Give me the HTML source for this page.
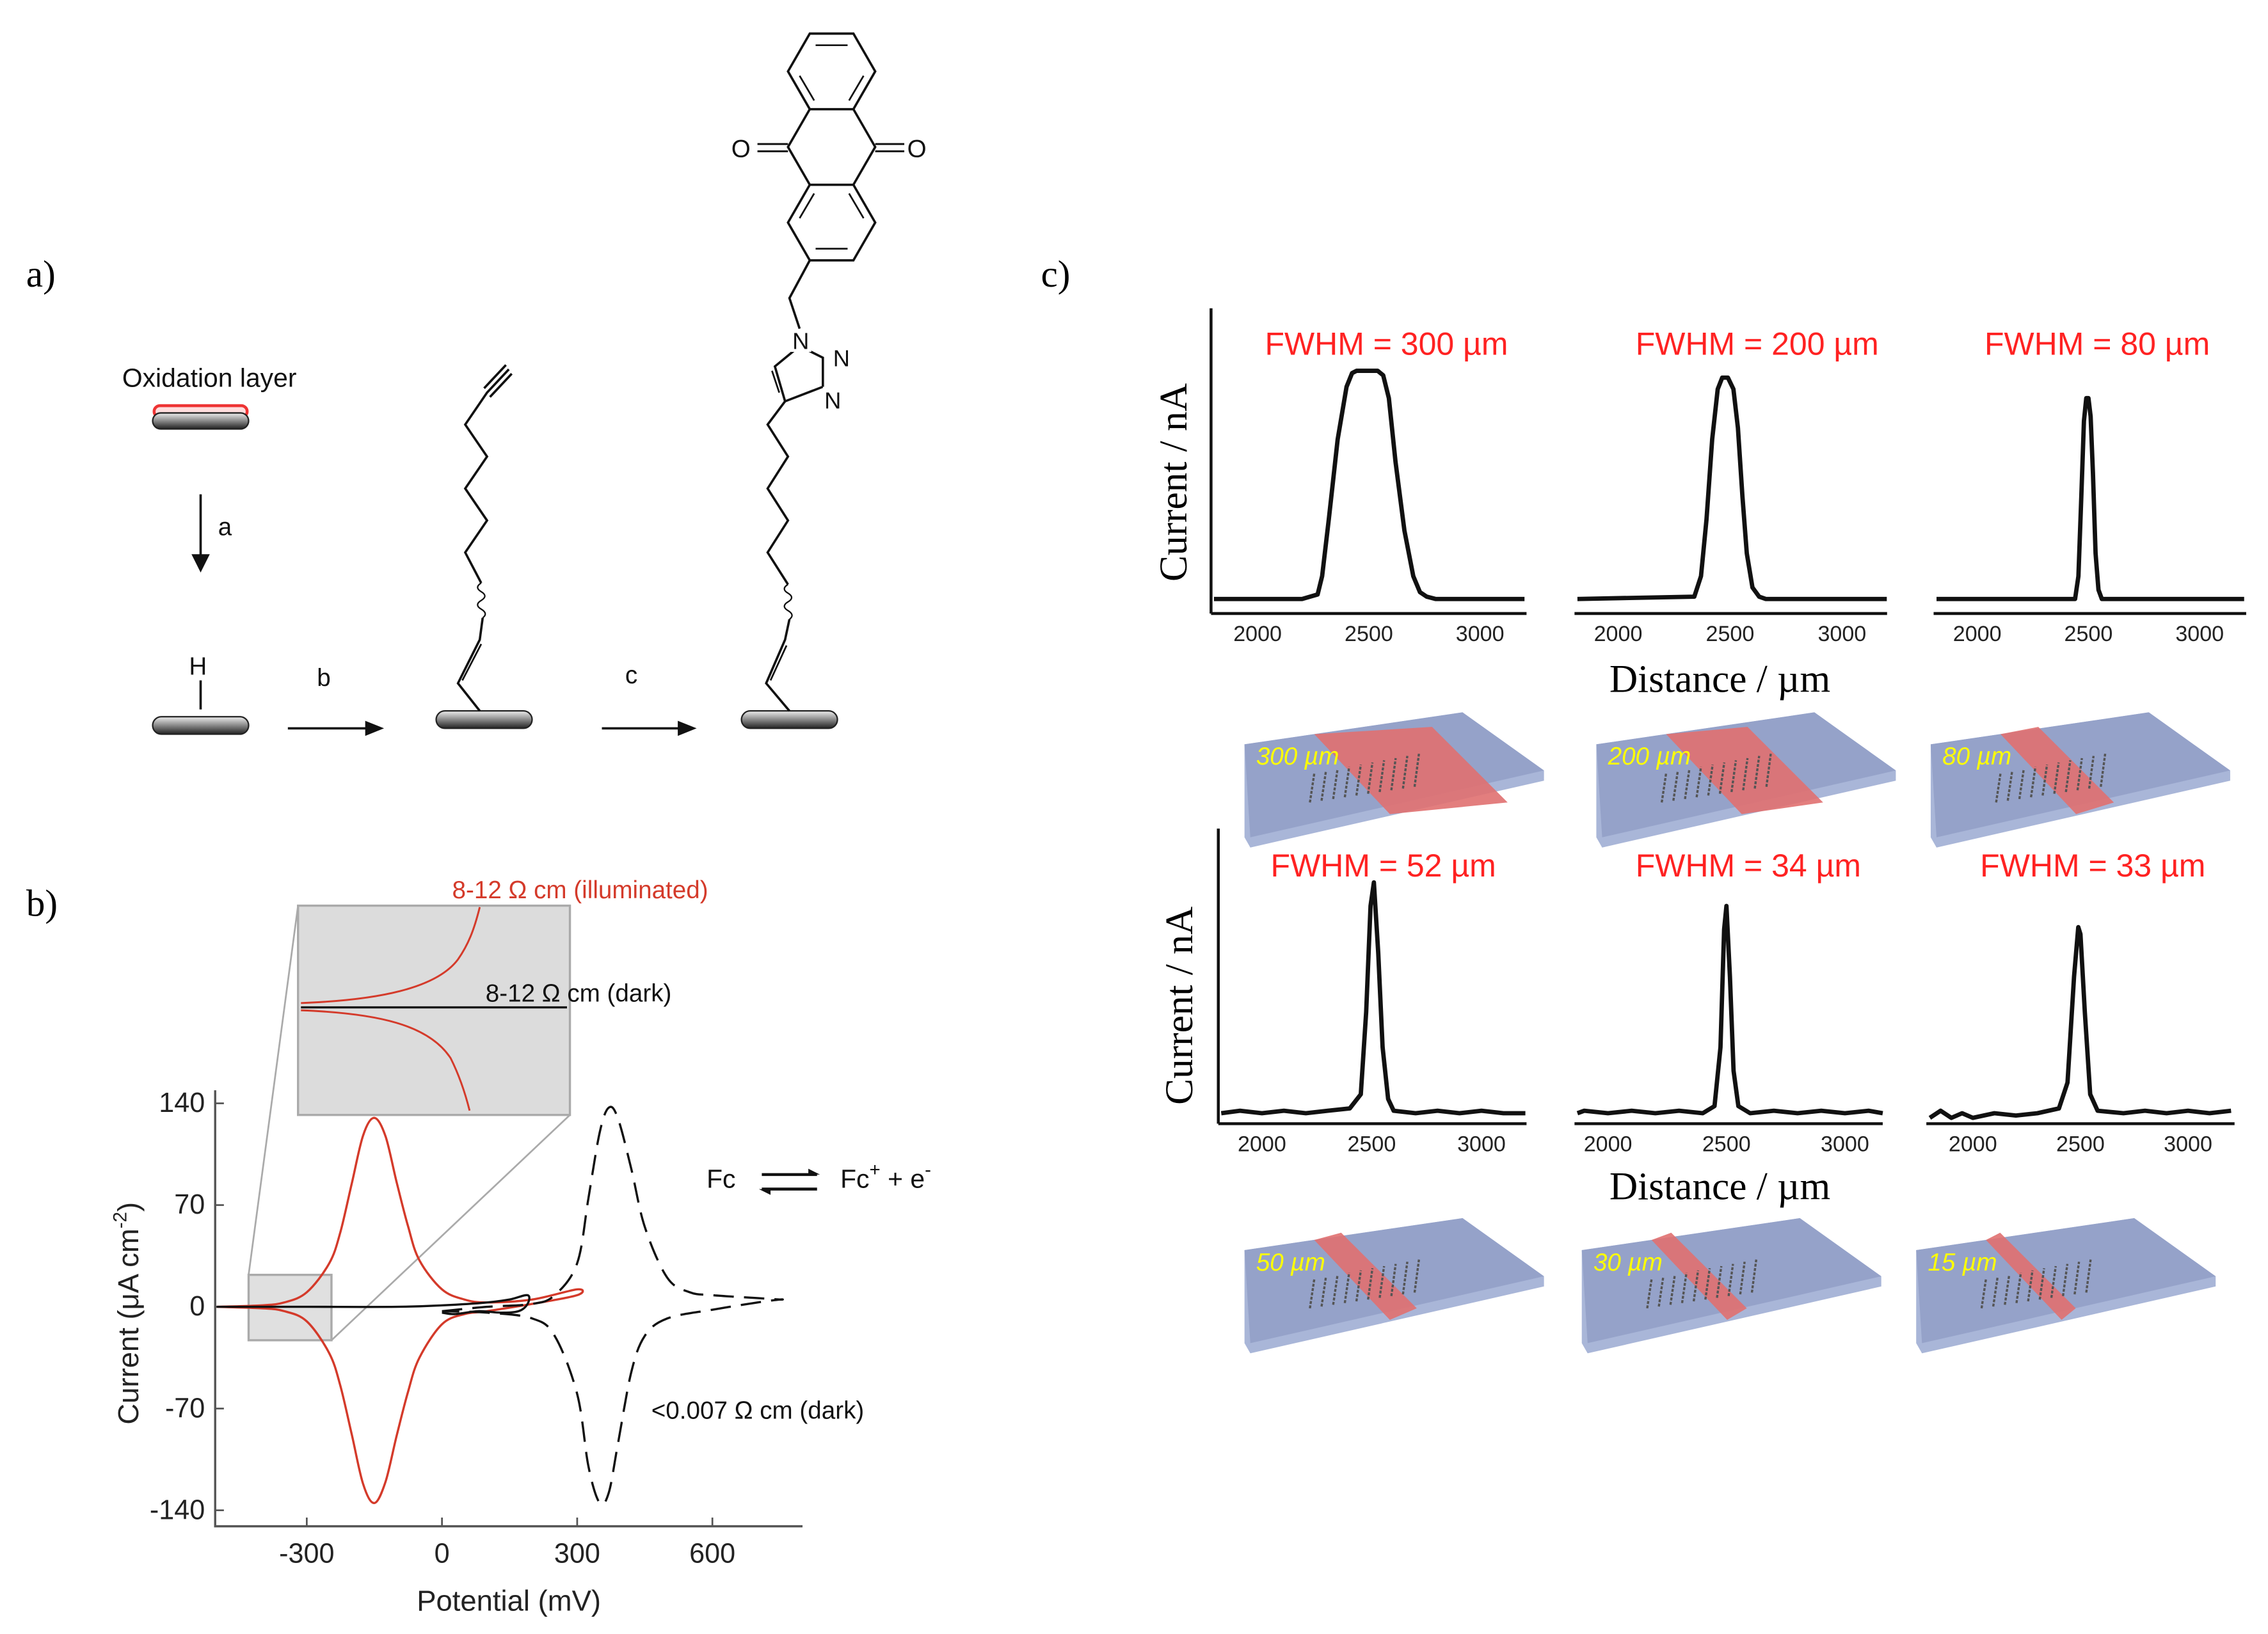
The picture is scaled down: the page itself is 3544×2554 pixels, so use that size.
<!DOCTYPE html>
<html><head><meta charset="utf-8"><style>
html,body{margin:0;padding:0;background:#fff}
svg{display:block}
text{font-family:"Liberation Sans",sans-serif}
.serif{font-family:"Liberation Serif",serif}
</style></head><body>
<svg id="fig" width="3544" height="2554" viewBox="0 0 1560 1124" xmlns="http://www.w3.org/2000/svg">
<rect width="1560" height="1124" fill="#fff"/>

<text x="18" y="197" font-size="26" class="serif">a)</text>
<text x="18" y="630" font-size="26" class="serif">b)</text>
<text x="716" y="197" font-size="26" class="serif">c)</text>

<g stroke="#111" fill="none" stroke-width="1.6">
  <defs>
    <linearGradient id="plate" x1="0" y1="0" x2="0" y2="1">
      <stop offset="0" stop-color="#eee"/><stop offset="0.5" stop-color="#888"/><stop offset="1" stop-color="#222"/>
    </linearGradient>
  </defs>
  <text x="84" y="266" font-size="18" fill="#111" stroke="none">Oxidation layer</text>
  <rect x="106" y="279" width="64" height="8" rx="4" fill="#fdd" stroke="#e33" stroke-width="2"/>
  <rect x="105" y="284" width="66" height="11" rx="5.5" fill="url(#plate)" stroke="#222" stroke-width="1"/>
  <line x1="138" y1="340" x2="138" y2="388"/><path d="M133 382 L138 392 L143 382Z" fill="#111"/>
  <text x="150" y="368" font-size="17" fill="#111" stroke="none">a</text>
  <text x="130" y="464" font-size="17" fill="#111" stroke="none">H</text>
  <line x1="138" y1="468" x2="138" y2="488"/>
  <rect x="105" y="493" width="66" height="12" rx="6" fill="url(#plate)" stroke="#222" stroke-width="1"/>
  <text x="218" y="472" font-size="17" fill="#111" stroke="none">b</text>
  <line x1="198" y1="501" x2="255" y2="501"/><path d="M252 497 L262 501 L252 505Z" fill="#111"/>
  <rect x="300" y="489" width="66" height="12" rx="6" fill="url(#plate)" stroke="#222" stroke-width="1"/>
  <path d="M330 489 L315 470 L330 440 L332 425"/>
  <path d="M318 468 L331 443" stroke-width="1.2"/>
  <path d="M332 425 q4 -3 -1 -6 q-5 -3 0 -6 q5 -3 0 -6 q-5 -3 0 -6" stroke-width="1"/>
  <path d="M331 401 L320 380 L335 358 L320 336 L335 314 L320 292 L335 270 L350 254"/>
  <path d="M337 273 L352 257 M333 267 L348 251"/>
  <text x="430" y="470" font-size="17" fill="#111" stroke="none">c</text>
  <line x1="414" y1="501" x2="470" y2="501"/><path d="M467 497 L477 501 L467 505Z" fill="#111"/>
  <rect x="510" y="489" width="66" height="12" rx="6" fill="url(#plate)" stroke="#222" stroke-width="1"/>
  <path d="M543 489 L527 470 L540 440 L543 426"/>
  <path d="M530 468 L541 444" stroke-width="1.2"/>
  <path d="M543 426 q4 -3 -1 -6 q-5 -3 0 -6 q5 -3 0 -6 q-5 -3 0 -6" stroke-width="1"/>
  <path d="M542 402 L528 380 L542 358 L528 336 L542 314 L528 292 L540 276"/>
  <path d="M540 276 L533 252 L550 238 L566 246 L566 266 Z"/>
  <path d="M536 270 L531 255" stroke-width="1.2"/>
  <rect x="544" y="226" width="14" height="16" fill="#fff" stroke="none"/>
  <text x="545" y="240" font-size="16" fill="#111" stroke="none">N</text>
  <rect x="572" y="238" width="14" height="16" fill="#fff" stroke="none"/>
  <text x="573" y="252" font-size="16" fill="#111" stroke="none">N</text>
  <rect x="566" y="266" width="14" height="16" fill="#fff" stroke="none"/>
  <text x="567" y="281" font-size="16" fill="#111" stroke="none">N</text>
  <path d="M550 226 L543 205 L557 179"/>
  <path d="M557 23 L587 23 L602 49 L587 75 L557 75 L542 49 Z"/>
  <path d="M561 31 L583 31 M594 52 L584 69 M550 52 L560 69" stroke-width="1.2"/>
  <path d="M557 75 L542 101 L557 127 M587 75 L602 101 L587 127"/>
  <path d="M557 127 L587 127 L602 153 L587 179 L557 179 L542 153 Z"/>
  <path d="M561 171 L583 171 M550 150 L560 133 M594 150 L584 133" stroke-width="1.2"/>
  <path d="M542 99 L521 99 M542 104 L521 104 M602 99 L622 99 M602 104 L622 104" stroke-width="1.3"/>
  <text x="503" y="108" font-size="17" fill="#111" stroke="none">O</text>
  <text x="624" y="108" font-size="17" fill="#111" stroke="none">O</text>
</g>

<g id="cv"></g>

<g id="prof"></g>
<text class="serif" font-size="27" transform="translate(816,400) rotate(-90)">Current / nA</text>
<text class="serif" font-size="27" transform="translate(820,760) rotate(-90)">Current / nA</text>
<text class="serif" font-size="27" x="1107" y="476">Distance / µm</text>
<text class="serif" font-size="27" x="1107" y="825">Distance / µm</text>
<g id="slabs"></g>
</svg>

<script>
const NS="http://www.w3.org/2000/svg";
function mk(tag,attrs,parent,txt){const e=document.createElementNS(NS,tag);for(const k in attrs)e.setAttribute(k,attrs[k]);if(txt!==undefined)e.textContent=txt;parent.appendChild(e);return e;}

const redFwdE=[-500,-400,-350,-300,-250,-225,-200,-175,-150,-125,-100,-75,-50,0,50,100,200,300];
const redFwdI=[0,1,3,10,30,52,85,118,130,117,85,55,32,12,5,3,5,12];
const redRevE=[300,200,100,50,0,-50,-75,-100,-125,-150,-175,-200,-225,-250,-300,-350,-400,-500];
const redRevI=[8,2,-3,-5,-12,-35,-58,-88,-120,-135,-122,-88,-55,-32,-10,-3,-1,0];
const darkFwdE=[-500,-300,-100,0,100,150,190];
const darkFwdI=[0,0,0,1,3,5,8];
const darkRevE=[190,170,130,80,30,0];
const darkRevI=[2,-3,-4,-3,-5,-4];
const dashFwdE=[0,100,200,250,300,325,350,370,390,420,450,500,550,600,700,750];
const dashFwdI=[-3,0,2,8,30,75,120,137,130,95,55,20,10,8,6,5];
const dashRevE=[750,700,600,500,450,420,390,370,350,325,300,250,200,100,0];
const dashRevI=[5,3,-2,-8,-20,-45,-95,-128,-135,-110,-60,-20,-8,-4,-3];
const cvXTicks=[-300,0,300,600];
const cvYTicks=[140,70,0,-70,-140];

const cx=e=>304+e*0.31, cy=i=>899-i*1.0;
const cv=document.getElementById('cv');
function smooth(pts){
  let d='M'+pts[0][0].toFixed(1)+' '+pts[0][1].toFixed(1);
  for(let i=0;i<pts.length-1;i++){
    const p0=pts[Math.max(0,i-1)],p1=pts[i],p2=pts[i+1],p3=pts[Math.min(pts.length-1,i+2)];
    const c1=[p1[0]+(p2[0]-p0[0])/6,p1[1]+(p2[1]-p0[1])/6];
    const c2=[p2[0]-(p3[0]-p1[0])/6,p2[1]-(p3[1]-p1[1])/6];
    d+=' C'+c1[0].toFixed(1)+' '+c1[1].toFixed(1)+' '+c2[0].toFixed(1)+' '+c2[1].toFixed(1)+' '+p2[0].toFixed(1)+' '+p2[1].toFixed(1);
  }
  return d;
}
function linear(pts){return pts.map((p,i)=>(i?'L':'M')+p[0].toFixed(1)+' '+p[1].toFixed(1)).join(' ');}
function cvPts(E,I){return E.map((e,k)=>[cx(e),cy(I[k])]);}
let a=mk('path',{d:'M148 750 L148 1050 L552 1050',stroke:'#555','stroke-width':1.5,fill:'none'},cv);


cvXTicks.forEach(t=>{
  const tk=mk('line',{x1:cx(t),x2:cx(t),y1:1050,y2:1044,stroke:'#555','stroke-width':1.2},cv);
  
  
  const l=mk('text',{x:cx(t),y:1075,'font-size':19,'text-anchor':'middle',fill:'#222'},cv,String(t));
  
  
});
cvYTicks.forEach(t=>{
  const tk=mk('line',{x1:148,x2:154,y1:cy(t),y2:cy(t),stroke:'#555','stroke-width':1.2},cv);
  
  
  const l=mk('text',{x:141,y:cy(t)+6,'font-size':19,'text-anchor':'end',fill:'#222'},cv,String(t));
  
  
});
let t1=mk('text',{x:350,y:1108,'font-size':20,'text-anchor':'middle',fill:'#222'},cv,'Potential (mV)');


let t2=mk('text',{transform:'translate(95,980) rotate(-90)','font-size':20,fill:'#222'},cv,'Current (μA cm');


mk('tspan',{dy:-8,'font-size':13},t2,'-2');
mk('tspan',{dy:8},t2,')');
let zb=mk('rect',{x:171,y:877,width:57,height:45,fill:'#ccc','fill-opacity':0.6,stroke:'#aaa','stroke-width':1.5},cv);


mk('path',{d:'M171 877 L205 623 M228 922 L392 767',stroke:'#aaa','stroke-width':1.2,fill:'none'},cv);
let ib=mk('rect',{x:205,y:623,width:187,height:144,fill:'#dcdcdc',stroke:'#aaa','stroke-width':1.5},cv);


mk('path',{d:'M207 690 C260 688 300 680 315 660 C322 650 326 640 330 624',stroke:'#d43a2a','stroke-width':1.3,fill:'none'},cv);
mk('path',{d:'M207 695 C260 697 295 705 310 728 C316 740 320 752 323 764',stroke:'#d43a2a','stroke-width':1.3,fill:'none'},cv);
mk('line',{x1:207,x2:390,y1:693,y2:693,stroke:'#111','stroke-width':1.5},cv);
let s1=mk('path',{d:smooth(cvPts(redFwdE,redFwdI).concat(cvPts(redRevE,redRevI))),stroke:'#d43a2a','stroke-width':1.5,fill:'none'},cv);


let s2=mk('path',{d:smooth(cvPts(darkFwdE,darkFwdI).concat(cvPts(darkRevE,darkRevI))),stroke:'#111','stroke-width':1.5,fill:'none'},cv);


let s3=mk('path',{d:smooth(cvPts(dashFwdE,dashFwdI).concat(cvPts(dashRevE,dashRevI))),stroke:'#111','stroke-width':1.5,fill:'none','stroke-dasharray':'14 7'},cv);


let n1=mk('text',{x:311,y:618,'font-size':17,fill:'#d43a2a'},cv,'8-12  Ω cm (illuminated)');


let n2=mk('text',{x:334,y:689,'font-size':17,fill:'#111'},cv,'8-12  Ω cm (dark)');


let n3=mk('text',{x:448,y:976,'font-size':17,fill:'#111'},cv,'<0.007 Ω cm (dark)');


let n4=mk('text',{x:486,y:817,'font-size':18,fill:'#111'},cv,'Fc');


mk('path',{d:'M524 808 L562 808 M524 818 L562 818',stroke:'#111','stroke-width':2},cv);
mk('path',{d:'M556 804 L564 808 L556 808Z M530 818 L522 818 L530 822Z',fill:'#111'},cv);
let n5=mk('text',{x:578,y:817,'font-size':18,fill:'#111'},cv,'Fc');
mk('tspan',{dy:-8,'font-size':13},n5,'+');
mk('tspan',{dy:8},n5,'  +  e');
mk('tspan',{dy:-8,'font-size':13},n5,'-');

const p1X=[1800,2200,2270,2290,2320,2360,2400,2425,2445,2540,2565,2590,2620,2660,2700,2730,2760,2800,3200];
const p1Y=[0,0,0.02,0.1,0.35,0.7,0.93,0.99,1.0,1.0,0.98,0.88,0.6,0.3,0.1,0.03,0.01,0,0];
const p2X=[1800,2340,2370,2395,2420,2445,2465,2490,2515,2535,2555,2575,2600,2630,2660,3200];
const p2Y=[0,0.01,0.1,0.35,0.7,0.92,0.97,0.97,0.92,0.75,0.45,0.2,0.05,0.01,0,0];
const p3X=[1800,2440,2455,2468,2480,2490,2500,2510,2520,2532,2545,2560,3200];
const p3Y=[0,0,0.1,0.45,0.78,0.88,0.88,0.8,0.55,0.2,0.04,0,0];
const p4X=[1800,1900,2000,2100,2200,2300,2400,2450,2475,2495,2510,2530,2550,2575,2600,2700,2800,2900,3000,3100,3200];
const p4Y=[0.02,0.03,0.02,0.03,0.02,0.03,0.04,0.1,0.45,0.9,1.0,0.7,0.3,0.08,0.03,0.02,0.03,0.02,0.03,0.02,0.02];
const p5X=[1800,1900,2000,2100,2200,2300,2400,2450,2475,2490,2500,2515,2530,2550,2600,2700,2800,2900,3000,3100,3200];
const p5Y=[0.02,0.03,0.02,0.03,0.02,0.03,0.02,0.05,0.3,0.8,0.9,0.6,0.2,0.05,0.02,0.03,0.02,0.03,0.02,0.03,0.02];
const p6X=[1800,1850,1900,1950,2000,2100,2200,2300,2400,2440,2470,2490,2500,2520,2545,2580,2700,2800,2900,3000,3100,3200];
const p6Y=[0.0,0.03,0.0,0.02,0.0,0.02,0.01,0.02,0.04,0.15,0.6,0.81,0.78,0.45,0.1,0.03,0.02,0.03,0.02,0.03,0.02,0.03];
const distTicks=[2000,2500,3000];
const fwhmLabels=['FWHM = 300 µm','FWHM = 200 µm','FWHM = 80 µm','FWHM = 52 µm','FWHM = 34 µm','FWHM = 33 µm'];
const spotLabels=['300 µm','200 µm','80 µm','50 µm','30 µm','15 µm'];
const spotWidths=[300,200,80,50,30,15];

const panels=[
 {xs:p1X,ys:p1Y,ax0:833,ax1:1050,t0:865,t3:1018,axY:422,base:412,amp:157,yTop:212,lab:[870,244],yaxis:true},
 {xs:p2X,ys:p2Y,ax0:1083,ax1:1298,t0:1113,t3:1267,axY:422,base:412,amp:157,lab:[1125,244]},
 {xs:p3X,ys:p3Y,ax0:1330,ax1:1545,t0:1360,t3:1513,axY:422,base:412,amp:157,lab:[1365,244]},
 {xs:p4X,ys:p4Y,ax0:838,ax1:1050,t0:868,t3:1019,axY:773,base:769,amp:162,yTop:570,lab:[874,603],yaxis:true},
 {xs:p5X,ys:p5Y,ax0:1083,ax1:1295,t0:1106,t3:1269,axY:773,base:769,amp:162,lab:[1125,603]},
 {xs:p6X,ys:p6Y,ax0:1325,ax1:1537,t0:1357,t3:1505,axY:773,base:769,amp:162,lab:[1362,603]}
];
const prof=document.getElementById('prof');
panels.forEach((p,k)=>{
  const sx=d=>p.t0+(d-2000)*(p.t3-p.t0)/1000;
  const sy=v=>p.base-v*p.amp;
  const g=mk('g',{},prof);
  
  
  const ax=mk('line',{x1:p.ax0,x2:p.ax1,y1:p.axY,y2:p.axY,stroke:'#111','stroke-width':2},g);
  
  
  if(p.yaxis){const ya=mk('line',{x1:p.ax0,x2:p.ax0,y1:p.yTop,y2:p.axY,stroke:'#111','stroke-width':2},g);
    
    }
  distTicks.forEach(t=>{
    const l=mk('text',{x:sx(t),y:p.axY+19,'font-size':15,'text-anchor':'middle',fill:'#222'},g,String(t));
    
    
  });
  const pts=p.xs.map((x,i)=>[Math.max(p.ax0+2,Math.min(p.ax1,sx(x))),sy(p.ys[i])]);
  const ln=mk('path',{d:linear(pts),stroke:'#111','stroke-width':3,fill:'none','stroke-linejoin':'round'},g);
  
  
  const lb=mk('text',{x:p.lab[0],y:p.lab[1],'font-size':22,fill:'#f22'},g,fwhmLabels[k]);
  
  
});

const slabs=document.getElementById('slabs');
const slabPos=[[856,490],[1098,490],[1328,490],[856,838],[1088,838],[1318,838]];
slabPos.forEach((s,k)=>{
  const x=s[0],y=s[1];
  const g=mk('g',{transform:'translate('+x+','+y+')'},slabs);
  
  
  mk('path',{d:'M0 22 L150 0 L206 40 L206 47 L4 93 L0 86 Z',fill:'#a9b6d8'},g);
  mk('path',{d:'M0 22 L150 0 L206 40 L4 86 Z',fill:'#95a2c9'},g);
  const w=spotWidths[k]*0.25+6;
  mk('path',{d:'M48 15 L'+(48+w)+' 10 L'+(100+w)+' 62 L100 70 Z',fill:'#e07070','fill-opacity':0.9},g);
  for(let i=0;i<10;i++){mk('line',{x1:45+i*8,y1:62-i*1.2,x2:48+i*8,y2:42-i*1.5,stroke:'#555','stroke-width':1.5,'stroke-dasharray':'2 1'},g);}
  const l=mk('text',{x:8,y:36,'font-size':17,fill:'#ff0','font-style':'italic'},g,spotLabels[k]);
  
  
});
</script>
</body></html>
